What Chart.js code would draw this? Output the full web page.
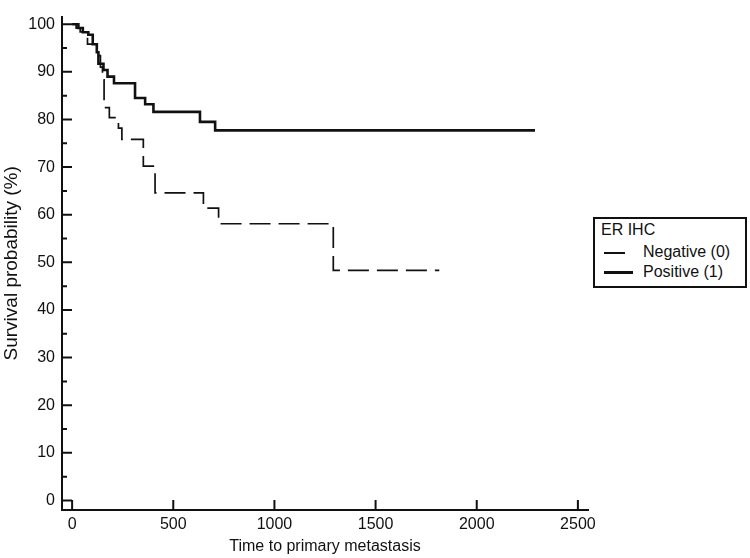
<!DOCTYPE html>
<html>
<head>
<meta charset="utf-8">
<script src="https://cdn.jsdelivr.net/npm/chart.js@4/dist/chart.umd.min.js"></script>
<style>
  html, body { margin: 0; padding: 0; background: #fff; }
  #wrap { position: relative; width: 750px; height: 558px; }
  #legend {
    position: absolute; left: 593px; top: 217px; width: 150px; height: 67px;
    border: 2px solid #111; background: #fff;
    font-family: "Liberation Sans", Arial, sans-serif; font-size: 16px; color: #111;
  }
  #legend .t { position: absolute; left: 6px; top: 2px; line-height: 18px; }
  #legend .lab { position: absolute; left: 48px; line-height: 18px; white-space: nowrap; }
  #legend .smp { position: absolute; left: 9px; background: #111; }
</style>
</head>
<body>
<div id="wrap">
  <canvas id="km" width="750" height="558"></canvas>
  <div id="legend">
    <div class="t">ER IHC</div>
    <div class="smp" style="top:33px;width:21px;height:1.6px"></div>
    <div class="lab" style="top:24px">Negative (0)</div>
    <div class="smp" style="top:52px;width:29px;height:2.6px"></div>
    <div class="lab" style="top:44px">Positive (1)</div>
  </div>
</div>
<script>
  // Datos (Kaplan-Meier)
  const negTime = [0, 20, 40, 60, 76, 124, 140, 150, 158, 184, 229, 246, 352, 410, 649, 724, 1291, 1815];
  const negSurv = [100, 99.2, 98.4, 97.6, 95.8, 93.4, 91.0, 88.3, 82.5, 80.4, 78.2, 75.8, 70.2, 64.6, 61.4, 58.1, 48.3, 48.3];

  const posTime = [0, 31, 53, 80, 102, 122, 130, 155, 175, 207, 311, 361, 402, 632, 707, 2288];
  const posSurv = [100, 99.2, 98.3, 97.8, 95.8, 94.1, 91.7, 90.4, 89.0, 87.6, 84.5, 83.2, 81.6, 79.5, 77.7, 77.7];

  const xTicks = [0, 500, 1000, 1500, 2000, 2500];
  const yTicks = [0, 10, 20, 30, 40, 50, 60, 70, 80, 90, 100];
  const yMinor = [5, 15, 25, 35, 45, 55, 65, 75, 85, 95];

  const FONT = '"Liberation Sans", Arial, sans-serif';
  Chart.defaults.font.family = FONT;
  Chart.defaults.color = '#111';

  const pts = (ts, vs) => ts.map((t, i) => ({ x: t, y: vs[i] }));

  // Marcas de eje hacia adentro
  const innerTicks = {
    id: 'innerTicks',
    afterDatasetsDraw(chart) {
      const { ctx, scales: { x, y }, chartArea: a } = chart;
      ctx.save();
      ctx.strokeStyle = '#111';
      ctx.lineWidth = 2;
      ctx.beginPath();
      xTicks.forEach(v => {
        const p = x.getPixelForValue(v);
        ctx.moveTo(p, a.bottom); ctx.lineTo(p, a.bottom - 10);
      });
      yTicks.forEach(v => {
        const p = y.getPixelForValue(v);
        ctx.moveTo(a.left, p); ctx.lineTo(a.left + 10, p);
      });
      yMinor.forEach(v => {
        const p = y.getPixelForValue(v);
        ctx.moveTo(a.left, p); ctx.lineTo(a.left + 5, p);
      });
      ctx.stroke();
      ctx.restore();
    }
  };

  new Chart(document.getElementById('km'), {
    type: 'line',
    data: {
      datasets: [
        { label: 'Negative (0)', data: pts(negTime, negSurv), stepped: 'before',
          borderColor: '#111', borderWidth: 1.7, borderDash: [21, 8], pointRadius: 0, fill: false },
        { label: 'Positive (1)', data: pts(posTime, posSurv), stepped: 'before',
          borderColor: '#111', borderWidth: 2.6, pointRadius: 0, fill: false }
      ]
    },
    options: {
      responsive: false,
      animation: false,
      layout: { padding: { left: 0, top: 3, right: 162, bottom: 0 } },
      plugins: { legend: { display: false }, tooltip: { enabled: false } },
      scales: {
        x: {
          type: 'linear', min: -50, max: 2550,
          afterBuildTicks: s => { s.ticks = xTicks.map(v => ({ value: v })); },
          afterFit: s => { s.height = 48; },
          grid: { display: false, drawTicks: false },
          border: { display: true, color: '#111', width: 2 },
          ticks: { font: { size: 16 }, padding: 5, maxRotation: 0, autoSkip: false,
                   callback: v => String(v) },
          title: { display: true, text: 'Time to primary metastasis', font: { size: 16 },
                   padding: { top: 0, bottom: 2 } }
        },
        y: {
          type: 'linear', min: -2, max: 101.6,
          afterBuildTicks: s => { s.ticks = yTicks.map(v => ({ value: v })); },
          afterFit: s => { s.width = 62; },
          grid: { display: false, drawTicks: false },
          border: { display: true, color: '#111', width: 2 },
          ticks: { font: { size: 16 }, padding: 7, autoSkip: false,
                   callback: v => String(v) },
          title: { display: true, text: 'Survival probability (%)', font: { size: 19 },
                   padding: { top: 0, bottom: 0 } }
        }
      }
    },
    plugins: [innerTicks]
  });
</script>
</body>
</html>
